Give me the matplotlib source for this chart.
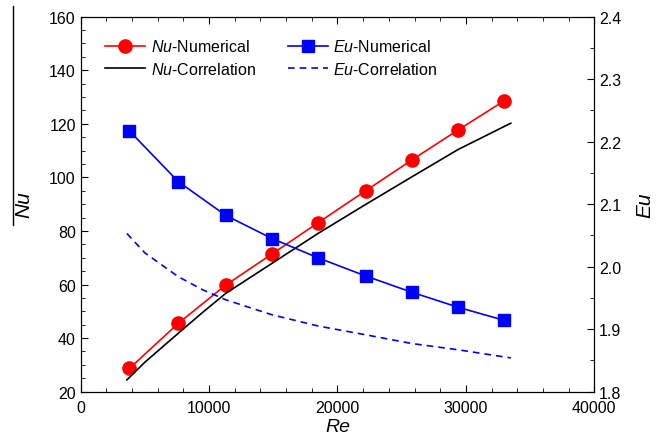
import numpy as np
import matplotlib.pyplot as plt
from matplotlib.lines import Line2D
from matplotlib.ticker import MultipleLocator

plt.rcParams['font.family'] = ['Liberation Sans', 'DejaVu Sans']
plt.rcParams['mathtext.fontset'] = 'custom'
plt.rcParams['mathtext.it'] = 'Liberation Sans:italic'
plt.rcParams['mathtext.rm'] = 'Liberation Sans'

# numerical results
re_num = [3800, 7600, 11300, 14900, 18500, 22200, 25800, 29400, 33000]
nu_num = [28.7, 45.5, 59.8, 71.4, 83.1, 95.0, 106.5, 117.7, 128.6]
eu_num = [2.217, 2.136, 2.082, 2.045, 2.014, 1.985, 1.959, 1.935, 1.914]

# correlations
re_cor = [3600, 5000, 7600, 9500, 11300, 14900, 18500, 22200, 25800, 29400, 33500]
nu_cor = [24.4, 31.0, 41.8, 49.6, 56.7, 67.9, 79.1, 89.9, 100.2, 110.4, 120.2]
eu_cor = [2.053, 2.022, 1.984, 1.963, 1.947, 1.923, 1.905, 1.891, 1.877, 1.867, 1.854]

fig = plt.figure(figsize=(6.7, 4.39), dpi=100)
ax = fig.add_axes([0.1204, 0.1055, 0.7666, 0.8545])
ax2 = ax.twinx()

l1, = ax.plot(re_num, nu_num, color='red', lw=1.2, marker='o', ms=9.5,
              label=r'$\it{Nu}$-Numerical')
l2, = ax.plot(re_cor, nu_cor, color='black', lw=1.2, label=r'$\it{Nu}$-Correlation')
l3, = ax2.plot(re_num, eu_num, color='blue', lw=1.2, marker='s', ms=8,
               label=r'$\it{Eu}$-Numerical')
l4, = ax2.plot(re_cor, eu_cor, color='blue', lw=1.2, ls=(0, (4, 3)),
               label=r'$\it{Eu}$-Correlation')

ax.set_xlim(0, 40000)
ax.set_ylim(20, 160)
ax2.set_ylim(1.8, 2.4)
ax.xaxis.set_major_locator(MultipleLocator(10000))
ax.xaxis.set_minor_locator(MultipleLocator(2000))
ax.yaxis.set_major_locator(MultipleLocator(20))
ax.yaxis.set_minor_locator(MultipleLocator(5))
ax2.yaxis.set_major_locator(MultipleLocator(0.1))
ax2.yaxis.set_minor_locator(MultipleLocator(0.05))
ax2.yaxis.set_major_formatter(plt.FormatStrFormatter('%.1f'))

ax.tick_params(which='both', direction='in', top=True, labelsize=11.5)
ax.tick_params(axis='x', which='major', pad=6)
ax.tick_params(which='major', length=5)
ax.tick_params(which='minor', length=3)
ax2.tick_params(which='both', direction='in', labelsize=11.5)
ax2.tick_params(which='major', length=5)
ax2.tick_params(which='minor', length=3)

ax.set_xlabel('Re', fontstyle='italic', fontsize=14, labelpad=2)
ax.set_ylabel('Nu', fontstyle='italic', fontsize=15, labelpad=11)
ax2.set_ylabel('Eu', fontstyle='italic', fontsize=15, labelpad=10)

# long overbar of the Nu label
fig.add_artist(Line2D([0.02, 0.02], [0.985, 0.485], color='black', lw=1.0))

leg = ax.legend(handles=[l1, l2, l3, l4], ncol=2, loc='upper left',
                bbox_to_anchor=(0.02, 0.98), frameon=False, fontsize=11.5,
                handlelength=2.5, columnspacing=2.0, handletextpad=0.35,
                labelspacing=0.4)

fig.savefig('out.png', dpi=100)
